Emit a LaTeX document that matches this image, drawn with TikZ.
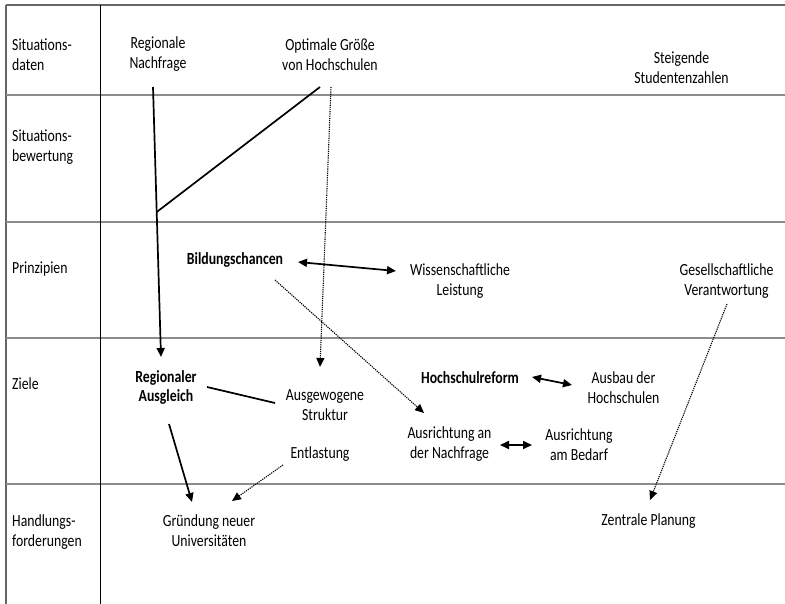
\documentclass[tikz,border=0pt]{standalone}
\usepackage{fontspec}
\setmainfont{Carlito}[FakeStretch=0.81]
\usetikzlibrary{arrows.meta,calc}
\tikzset{
  lbl/.style={align=center,inner sep=0pt,font=\fontsize{17}{20}\selectfont},
  rowlbl/.style={align=left,anchor=west,inner sep=0pt,font=\fontsize{17}{20.5}\selectfont},
  bold/.style={font=\fontsize{17}{19}\selectfont\bfseries},
  frame/.style={draw=black!60,line width=2pt},
  sep/.style={draw=black!45,line width=1.2pt},
  colline/.style={draw=black,line width=1pt},
  solid link/.style={draw=black,line width=1.7pt},
  dot link/.style={draw=black,line width=1.1pt,dash pattern=on 1.2pt off 1pt},
  tip/.style={-{Triangle[length=9pt,width=8pt]}},
  tips/.style={{Triangle[length=9pt,width=8pt]}-{Triangle[length=9pt,width=8pt]}}
}
\begin{document}
\begin{tikzpicture}[x=1pt,y=-1pt]
\useasboundingbox (0,0) rectangle (785,604);
% table
\draw[frame] (6,5) -- (785,5);
\draw[frame] (6,5) -- (6,604);
\draw[sep] (6,95) -- (785,95);
\draw[sep] (6,222) -- (785,222);
\draw[sep] (6,338) -- (785,338);
\draw[sep] (6,484) -- (785,484);
\draw[colline] (100,5) -- (100,604);
% row labels
\node[rowlbl] (r1) at (12,54.5) {Situations-\\daten};
\node[rowlbl] (r2) at (12,147) {Situations-\\bewertung};
\node[rowlbl] (r3) at (12,269.5) {Prinzipien};
\node[rowlbl] (r4) at (12,383.5) {Ziele};
\node[rowlbl] (r5) at (12,532) {Handlungs-\\forderungen};
% content nodes
\node[lbl] (rn) at (158,54.5) {Regionale\\Nachfrage};
\node[lbl] (og) at (330,54.5) {Optimale Größe\\von Hochschulen};
\node[lbl] (sz) at (681.5,67.5) {Steigende\\Studentenzahlen};
\node[lbl,bold] (bc) at (235,259.5) {Bildungschancen};
\node[lbl] (wl) at (460,281.5) {Wissenschaftliche\\Leistung};
\node[lbl] (gv) at (726.5,281.5) {Gesellschaftliche\\Verantwortung};
\node[lbl,bold] (ra) at (166,387) {Regionaler\\Ausgleich};
\node[lbl] (as) at (325,405.5) {Ausgewogene\\Struktur};
\node[lbl,bold] (hr) at (470,378) {Hochschulreform};
\node[lbl] (ah) at (623.5,388) {Ausbau der\\Hochschulen};
\node[lbl] (an) at (449.5,444.5) {Ausrichtung an\\der Nachfrage};
\node[lbl] (ab) at (579,444.5) {Ausrichtung\\am Bedarf};
\node[lbl] (en) at (320,454.5) {Entlastung};
\node[lbl] (gn) at (209,531) {Gründung neuer\\Universitäten};
\node[lbl] (zp) at (648.5,521.5) {Zentrale Planung};
% connector end points
\coordinate (rnS) at ($(rn.center)+(-5,32.5)$);
\coordinate (raN) at ($(ra.center)+(-5,-30)$);
\coordinate (j) at ($(rnS)!0.463!(raN)$);
% connectors
\draw[solid link,tip] (rnS) -- (raN);
\draw[solid link] ($(og.center)+(-10,32.5)$) -- (j);
\draw[dot link,tip] ($(og.center)+(1,32.5)$) -- ($(as.center)+(-5,-38.5)$);
\draw[solid link,tips] ($(bc.center)+(63,2.5)$) -- ($(wl.center)+(-64,-10.5)$);
\draw[dot link,tip] ($(bc.center)+(40,20.5)$) -- ($(an.center)+(-25.5,-31.5)$);
\draw[solid link] ($(ra.center)+(41,0)$) -- ($(as.center)+(-50,-2.5)$);
\draw[solid link,tip] ($(ra.center)+(3,37)$) -- ($(gn.center)+(-17,-29)$);
\draw[dot link,tip] ($(en.center)+(-37,10.5)$) -- ($(gn.center)+(23,-30)$);
\draw[solid link,tips] ($(hr.center)+(62,-1)$) -- ($(ah.center)+(-51.5,-3)$);
\draw[solid link,tips] ($(an.center)+(50.5,0.5)$) -- ($(ab.center)+(-47,0.5)$);
\draw[dot link,tip] ($(gv.center)+(0.5,22.5)$) -- ($(zp.center)+(1.5,-21.5)$);
\end{tikzpicture}
\end{document}
